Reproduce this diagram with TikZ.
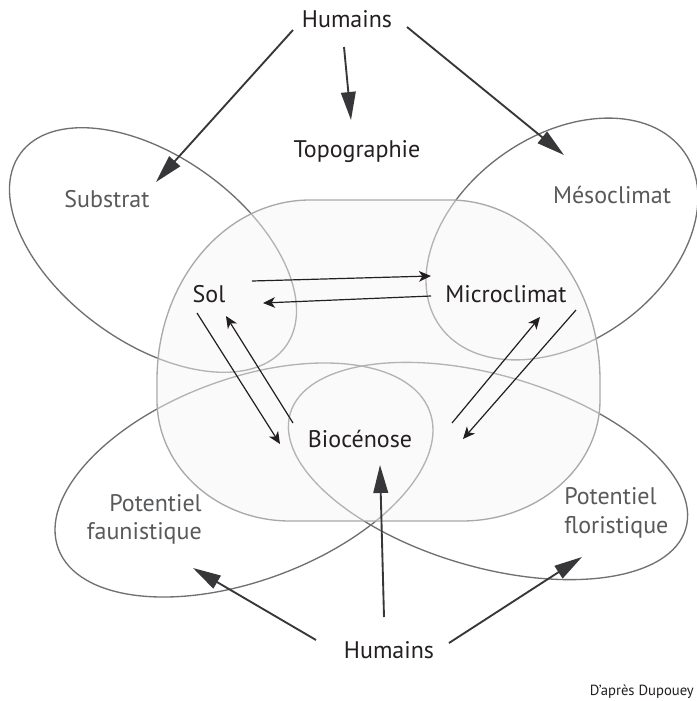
\documentclass[tikz,border=0pt]{standalone}
\usepackage{fontspec}
\setmainfont{PT Sans}
\usetikzlibrary{arrows.meta}
\definecolor{txtdark}{RGB}{35,31,32}
\definecolor{txtgray}{RGB}{88,89,91}
\definecolor{ellline}{RGB}{112,112,114}
\definecolor{cenline}{RGB}{168,169,172}
\definecolor{cenfill}{RGB}{246,246,246}
\definecolor{bigarr}{RGB}{55,55,57}
\tikzset{
  lab/.style={text=txtdark, inner sep=0pt, font=\fontsize{18}{21}\selectfont},
  glab/.style={text=txtgray, inner sep=0pt, font=\fontsize{18}{21}\selectfont},
  ell/.style={draw=ellline, line width=1pt},
  central/.style={draw=cenline, line width=1pt, fill=cenfill, fill opacity=0.5},
  bigarrow/.style={draw=bigarr, line width=1.4pt, -{Triangle[length=21pt,width=11pt]}},
  smallarrow/.style={draw=txtdark, line width=0.9pt, -{Stealth[length=9pt,width=8pt,inset=2.5pt]}}
}
\begin{document}
\begin{tikzpicture}[x=0.75pt,y=-0.75pt]
\fill[white] (0,0) rectangle (697,701);
\useasboundingbox (0,0) rectangle (697,701);
\clip (0,0) rectangle (697,701);
% ellipses
\draw[ell, rotate around={-36:(153,250)}] (153,250) ellipse [x radius=164, y radius=93];
\draw[ell, rotate around={35.5:(562,239)}] (562,239) ellipse [x radius=150, y radius=103];
\draw[ell, rotate around={20.3:(244,480)}] (244,480) ellipse [x radius=198, y radius=101];
\draw[ell, rotate around={-16.2:(488,471)}] (488,471) ellipse [x radius=206, y radius=96];
% central shape
\path[central] (310,200) -- (450,200)
  arc[start angle=270, end angle=360, x radius=150, y radius=180]
  -- (600,400) arc[start angle=0, end angle=90, x radius=138, y radius=121]
  -- (290,521) arc[start angle=90, end angle=180, x radius=133, y radius=121]
  -- (157,380) arc[start angle=180, end angle=270, x radius=153, y radius=180]
  -- cycle;
% labels
\node[lab, anchor=base] (humT) at (347,27) {Humains};
\node[lab, anchor=base] (topo) at (357,157) {Topographie};
\node[glab, anchor=base] (subs) at (107,207) {Substrat};
\node[glab, anchor=base] (meso) at (612,203) {Mésoclimat};
\node[lab, anchor=base] (sol) at (209,302) {Sol};
\node[lab, anchor=base] (micro) at (506,302) {Microclimat};
\node[lab, anchor=base] (bio) at (360,447) {Biocénose};
\node[glab, anchor=base east] (faunA) at (202,511) {Potentiel};
\node[glab, anchor=base east] (faunB) at (202,539) {faunistique};
\node[glab, anchor=base west] (florA) at (564,504) {Potentiel};
\node[glab, anchor=base west] (florB) at (564,533) {floristique};
\node[lab, anchor=base] (humB) at (389,658) {Humains};
\node[text=txtdark, inner sep=0pt, font=\fontsize{11}{13}\selectfont, anchor=base east] (src) at (694,695) {D’après Dupouey};
% connector end points
\coordinate (hTs) at (293,30);  \coordinate (subsT) at (156,182);
\coordinate (hTt) at (344,47);  \coordinate (topoT) at (351,120);
\coordinate (hTm) at (407,27);  \coordinate (mesoT) at (564,155);
\coordinate (hBf) at (316,640); \coordinate (faunT) at (193,568);
\coordinate (hBb) at (384,617); \coordinate (bioT) at (380,465);
\coordinate (hBl) at (449,643); \coordinate (florT) at (582,557);
\coordinate (solE1) at (252,281); \coordinate (micW1) at (431,276);
\coordinate (micW2) at (431,296); \coordinate (solE2) at (263,303);
\coordinate (solS1) at (197,313); \coordinate (bioW1) at (280,444);
\coordinate (bioW2) at (293,423); \coordinate (solS2) at (226,316);
\coordinate (bioE1) at (452,423); \coordinate (micS1) at (540,317);
\coordinate (micS2) at (576,310); \coordinate (bioE2) at (463,439);
% big arrows
\draw[bigarrow] (hTs) -- (subsT);
\draw[bigarrow] (hTt) -- (topoT);
\draw[bigarrow] (hTm) -- (mesoT);
\draw[bigarrow] (hBf) -- (faunT);
\draw[bigarrow] (hBb) -- (bioT);
\draw[bigarrow] (hBl) -- (florT);
% small arrows
\draw[smallarrow] (solE1) -- (micW1);
\draw[smallarrow] (micW2) -- (solE2);
\draw[smallarrow] (solS1) -- (bioW1);
\draw[smallarrow] (bioW2) -- (solS2);
\draw[smallarrow] (bioE1) -- (micS1);
\draw[smallarrow] (micS2) -- (bioE2);
\end{tikzpicture}
\end{document}
